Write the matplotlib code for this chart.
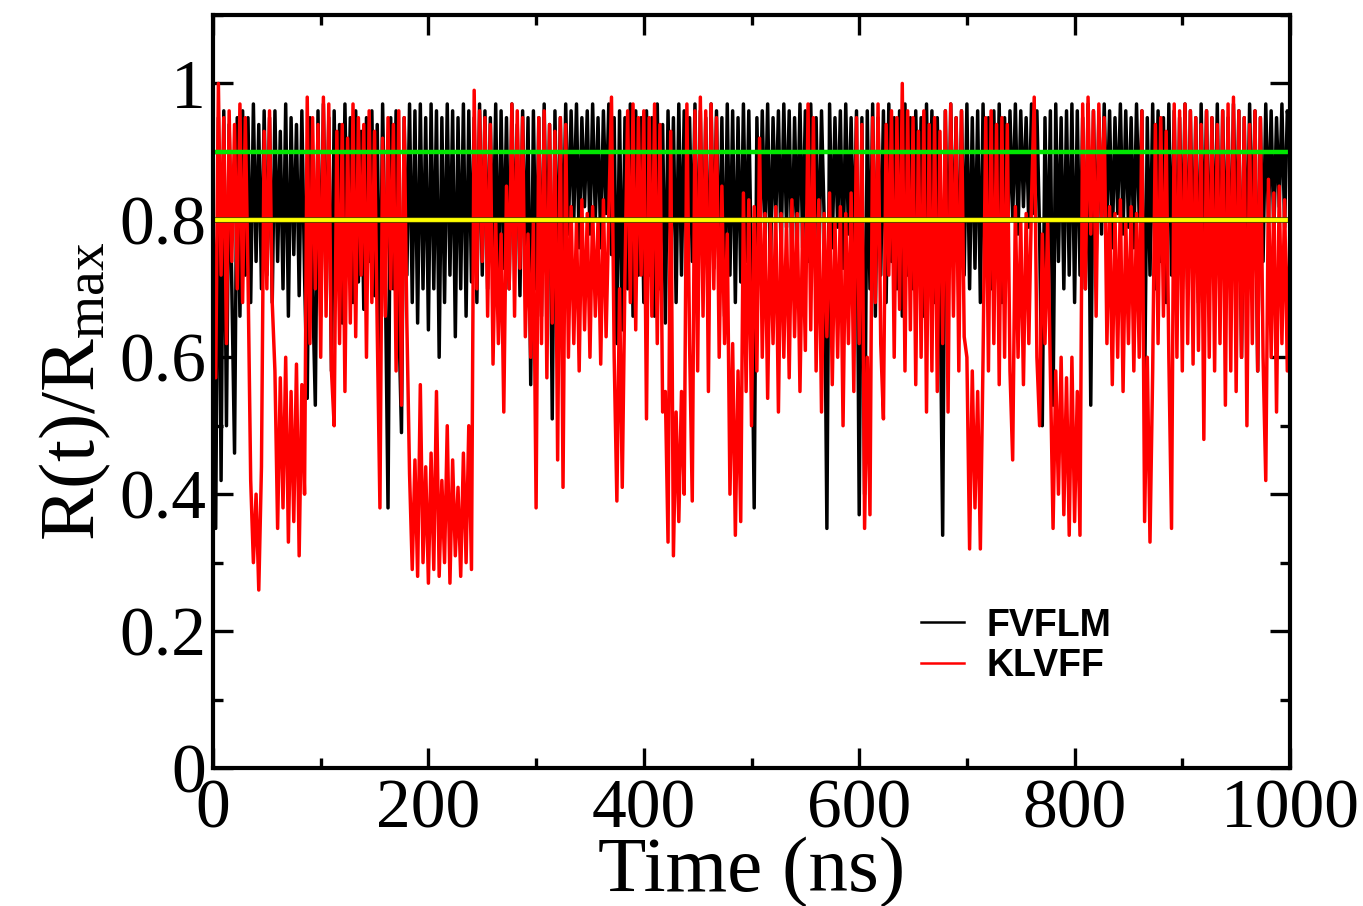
import numpy as np
import matplotlib
matplotlib.use("Agg")
import matplotlib.pyplot as plt
from matplotlib.ticker import MultipleLocator, FuncFormatter
import matplotlib.patheffects as pe

series_names = ["FVFLM", "KLVFF"]

fvflm = [
    0.80, 0.35, 0.95, 0.42, 0.96, 0.50, 0.94, 0.70, 0.46, 0.95, 0.66, 0.96, 0.72, 0.95, 0.68, 0.97, 0.74, 0.94, 0.70, 0.96,
    0.72, 0.95, 0.68, 0.96, 0.74, 0.93, 0.70, 0.97, 0.66, 0.95, 0.75, 0.94, 0.69, 0.96, 0.72, 0.54, 0.95, 0.70, 0.53, 0.96,
    0.66, 0.97, 0.72, 0.95, 0.58, 0.96, 0.70, 0.94, 0.65, 0.97, 0.73, 0.95, 0.68, 0.96, 0.71, 0.93, 0.67, 0.95, 0.74, 0.96,
    0.69, 0.94, 0.60, 0.97, 0.72, 0.38, 0.95, 0.70, 0.96, 0.66, 0.49, 0.95, 0.72, 0.97, 0.68, 0.96, 0.65, 0.97, 0.70, 0.95,
    0.64, 0.97, 0.70, 0.96, 0.60, 0.95, 0.68, 0.97, 0.72, 0.96, 0.63, 0.95, 0.70, 0.97, 0.66, 0.96, 0.71, 0.95, 0.68, 0.97,
    0.72, 0.96, 0.70, 0.95, 0.74, 0.97, 0.68, 0.96, 0.73, 0.95, 0.70, 0.97, 0.75, 0.94, 0.69, 0.96, 0.72, 0.95, 0.56, 0.96,
    0.70, 0.95, 0.66, 0.97, 0.72, 0.94, 0.51, 0.96, 0.70, 0.95, 0.74, 0.97, 0.78, 0.96, 0.80, 0.97, 0.76, 0.95, 0.82, 0.96,
    0.78, 0.97, 0.80, 0.95, 0.76, 0.96, 0.81, 0.97, 0.75, 0.95, 0.62, 0.96, 0.64, 0.95, 0.70, 0.97, 0.66, 0.96, 0.72, 0.95,
    0.68, 0.96, 0.72, 0.95, 0.66, 0.97, 0.70, 0.94, 0.65, 0.96, 0.73, 0.95, 0.68, 0.97, 0.72, 0.96, 0.70, 0.95, 0.74, 0.97,
    0.69, 0.96, 0.72, 0.95, 0.67, 0.97, 0.73, 0.96, 0.70, 0.95, 0.66, 0.97, 0.72, 0.96, 0.68, 0.95, 0.71, 0.97, 0.74, 0.96,
    0.72, 0.38, 0.95, 0.74, 0.96, 0.78, 0.97, 0.72, 0.95, 0.80, 0.96, 0.75, 0.97, 0.79, 0.96, 0.73, 0.95, 0.77, 0.97, 0.76,
    0.96, 0.74, 0.97, 0.78, 0.95, 0.72, 0.96, 0.80, 0.35, 0.97, 0.76, 0.95, 0.79, 0.96, 0.73, 0.97, 0.78, 0.95, 0.74, 0.96,
    0.37, 0.95, 0.40, 0.96, 0.70, 0.97, 0.66, 0.95, 0.72, 0.96, 0.68, 0.97, 0.74, 0.95, 0.70, 0.96, 0.66, 0.97, 0.72, 0.95,
    0.70, 0.96, 0.74, 0.95, 0.66, 0.97, 0.72, 0.96, 0.68, 0.95, 0.73, 0.34, 0.96, 0.70, 0.97, 0.74, 0.95, 0.68, 0.96, 0.72,
    0.97, 0.70, 0.95, 0.73, 0.96, 0.68, 0.97, 0.74, 0.95, 0.70, 0.96, 0.72, 0.97, 0.68, 0.95, 0.74, 0.96, 0.80, 0.97, 0.78,
    0.96, 0.82, 0.95, 0.79, 0.97, 0.81, 0.96, 0.78, 0.50, 0.95, 0.70, 0.96, 0.53, 0.97, 0.74, 0.95, 0.70, 0.96, 0.72, 0.97,
    0.68, 0.96, 0.72, 0.95, 0.70, 0.97, 0.53, 0.96, 0.74, 0.95, 0.78, 0.97, 0.80, 0.96, 0.76, 0.95, 0.81, 0.97, 0.78, 0.96,
    0.79, 0.95, 0.76, 0.97, 0.80, 0.96, 0.54, 0.95, 0.72, 0.97, 0.70, 0.96, 0.74, 0.95, 0.68, 0.97, 0.72, 0.96, 0.70, 0.95,
    0.74, 0.97, 0.70, 0.96, 0.72, 0.95, 0.68, 0.97, 0.74, 0.96, 0.70, 0.95, 0.73, 0.97, 0.69, 0.96, 0.72, 0.95, 0.70, 0.97,
    0.74, 0.96, 0.60, 0.95, 0.72, 0.97, 0.76, 0.96, 0.58, 0.95, 0.74, 0.97, 0.80, 0.96, 0.78, 0.95, 0.82, 0.97, 0.79, 0.96,
    0.93,
]

klvff = [
    0.80, 0.57, 1.00, 0.72, 0.95, 0.62, 0.96, 0.74, 0.94, 0.70, 0.97, 0.68, 0.95, 0.72, 0.42, 0.30, 0.40, 0.26, 0.44, 0.93,
    0.70, 0.96, 0.68, 0.58, 0.35, 0.57, 0.38, 0.60, 0.33, 0.55, 0.36, 0.59, 0.31, 0.56, 0.40, 0.98, 0.62, 0.95, 0.70, 0.94,
    0.60, 0.98, 0.66, 0.97, 0.58, 0.50, 0.93, 0.62, 0.94, 0.55, 0.92, 0.65, 0.97, 0.63, 0.95, 0.72, 0.94, 0.60, 0.96, 0.68,
    0.93, 0.64, 0.38, 0.92, 0.66, 0.95, 0.70, 0.94, 0.58, 0.96, 0.53, 0.95, 0.65, 0.43, 0.29, 0.45, 0.28, 0.56, 0.30, 0.44,
    0.27, 0.46, 0.29, 0.55, 0.28, 0.42, 0.30, 0.50, 0.27, 0.45, 0.31, 0.41, 0.28, 0.46, 0.30, 0.50, 0.29, 0.99, 0.70, 0.96,
    0.74, 0.95, 0.66, 0.94, 0.59, 0.80, 0.62, 0.78, 0.52, 0.85, 0.70, 0.97, 0.66, 0.96, 0.73, 0.95, 0.63, 0.78, 0.60, 0.80,
    0.38, 0.95, 0.62, 0.96, 0.57, 0.94, 0.65, 0.93, 0.45, 0.95, 0.41, 0.94, 0.60, 0.82, 0.62, 0.80, 0.58, 0.83, 0.64, 0.81,
    0.60, 0.82, 0.66, 0.80, 0.59, 0.83, 0.63, 0.81, 0.98, 0.60, 0.39, 0.70, 0.41, 0.72, 0.96, 0.68, 0.97, 0.64, 0.95, 0.72,
    0.96, 0.51, 0.95, 0.66, 0.97, 0.62, 0.94, 0.52, 0.55, 0.33, 0.93, 0.31, 0.52, 0.36, 0.55, 0.40, 0.97, 0.62, 0.39, 0.96,
    0.58, 0.98, 0.66, 0.96, 0.55, 0.97, 0.70, 0.95, 0.60, 0.85, 0.62, 0.78, 0.40, 0.62, 0.34, 0.58, 0.36, 0.84, 0.55, 0.83,
    0.50, 0.82, 0.58, 0.92, 0.60, 0.81, 0.54, 0.80, 0.62, 0.82, 0.52, 0.81, 0.60, 0.80, 0.57, 0.83, 0.63, 0.81, 0.55, 0.80,
    0.61, 0.97, 0.64, 0.95, 0.58, 0.83, 0.52, 0.81, 0.63, 0.84, 0.56, 0.80, 0.60, 0.82, 0.50, 0.81, 0.62, 0.84, 0.55, 0.95,
    0.62, 0.94, 0.35, 0.60, 0.37, 0.95, 0.68, 0.97, 0.62, 0.51, 0.94, 0.72, 0.96, 0.60, 0.95, 0.67, 1.00, 0.58, 0.96, 0.64,
    0.95, 0.56, 0.93, 0.60, 0.96, 0.52, 0.94, 0.58, 0.95, 0.55, 0.93, 0.62, 0.96, 0.52, 0.97, 0.66, 0.95, 0.58, 0.96, 0.63,
    0.60, 0.32, 0.58, 0.38, 0.55, 0.32, 0.60, 0.95, 0.58, 0.96, 0.62, 0.94, 0.56, 0.95, 0.60, 0.94, 0.58, 0.45, 0.82, 0.60,
    0.80, 0.56, 0.81, 0.62, 0.83, 0.98, 0.60, 0.50, 0.78, 0.62, 0.80, 0.58, 0.35, 0.58, 0.40, 0.60, 0.37, 0.57, 0.34, 0.60,
    0.36, 0.55, 0.34, 0.97, 0.70, 0.98, 0.78, 0.96, 0.66, 0.97, 0.80, 0.95, 0.62, 0.82, 0.56, 0.81, 0.60, 0.83, 0.55, 0.80,
    0.62, 0.82, 0.58, 0.81, 0.60, 0.96, 0.36, 0.60, 0.33, 0.58, 0.94, 0.62, 0.95, 0.66, 0.93, 0.60, 0.35, 0.97, 0.60, 0.96,
    0.58, 0.97, 0.62, 0.96, 0.59, 0.95, 0.61, 0.94, 0.48, 0.96, 0.60, 0.95, 0.58, 0.94, 0.62, 0.96, 0.53, 0.97, 0.58, 0.98,
    0.55, 0.96, 0.60, 0.95, 0.50, 0.94, 0.62, 0.96, 0.58, 0.95, 0.60, 0.42, 0.86, 0.60, 0.84, 0.52, 0.85, 0.62, 0.83, 0.58,
    0.80,
]

time_start, time_end = 0.0, 1000.0
threshold_high = 0.9
threshold_low = 0.8

x_ticks_major = [0, 200, 400, 600, 800, 1000]
y_ticks_major = [0, 0.2, 0.4, 0.6, 0.8, 1.0]

# ---------------- figure ----------------
serif = ["Liberation Serif", "DejaVu Serif"]
plt.rcParams["mathtext.fontset"] = "custom"
plt.rcParams["mathtext.rm"] = "Liberation Serif"
plt.rcParams["mathtext.it"] = "Liberation Serif:italic"

fig = plt.figure(figsize=(13.63, 9.06), dpi=100)
ax = fig.add_axes([213 / 1363, 1 - 768 / 906, 1077 / 1363, 753 / 906])

t_f = np.linspace(time_start, time_end, len(fvflm))
t_k = np.linspace(time_start, time_end, len(klvff))
ax.plot(t_f, fvflm, color="black", lw=2.5, label=series_names[0], zorder=2)
ax.plot(t_k, klvff, color="red", lw=2.5, label=series_names[1], zorder=2.05)

ax.axhline(threshold_high, color="#00e600", lw=3.2, zorder=2.2)
ax.axhline(threshold_low, color="#ffff00", lw=2.8, zorder=2.2,
           path_effects=[pe.Stroke(linewidth=4.0, foreground="#4a4a00"), pe.Normal()])

ax.set_xlim(time_start, time_end)
ax.set_ylim(0, 1.1)
ax.set_xticks(x_ticks_major)
ax.set_yticks(y_ticks_major)
ax.xaxis.set_minor_locator(MultipleLocator(100))
ax.yaxis.set_minor_locator(MultipleLocator(0.1))
ax.yaxis.set_major_formatter(FuncFormatter(lambda v, p: "%g" % v))

for s in ax.spines.values():
    s.set_linewidth(3.0)
ax.tick_params(which="both", direction="in", top=True, right=True, width=2.4)
ax.tick_params(which="major", length=14.5)
ax.tick_params(which="minor", length=7.5)
ax.tick_params(axis="x", which="major", pad=8)
ax.tick_params(axis="y", which="major", pad=5)
for lab in ax.get_xticklabels() + ax.get_yticklabels():
    lab.set_fontfamily(serif)
    lab.set_fontsize(50)

ax.set_xlabel("Time (ns)", fontfamily=serif, fontsize=57, labelpad=-4)
ax.set_ylabel(r"R(t)/R$_{\mathrm{max}}$", fontfamily=serif, fontsize=57, labelpad=4)

leg = ax.legend(loc="upper left", bbox_to_anchor=(0.657, 0.213), frameon=False,
                prop={"family": "Liberation Sans", "weight": "bold", "size": 27},
                handlelength=1.15, handletextpad=0.6, labelspacing=0.12,
                borderpad=0, borderaxespad=0)
for h in leg.legend_handles:
    h.set_linewidth(1.8)

fig.savefig("out.png", dpi=100)
